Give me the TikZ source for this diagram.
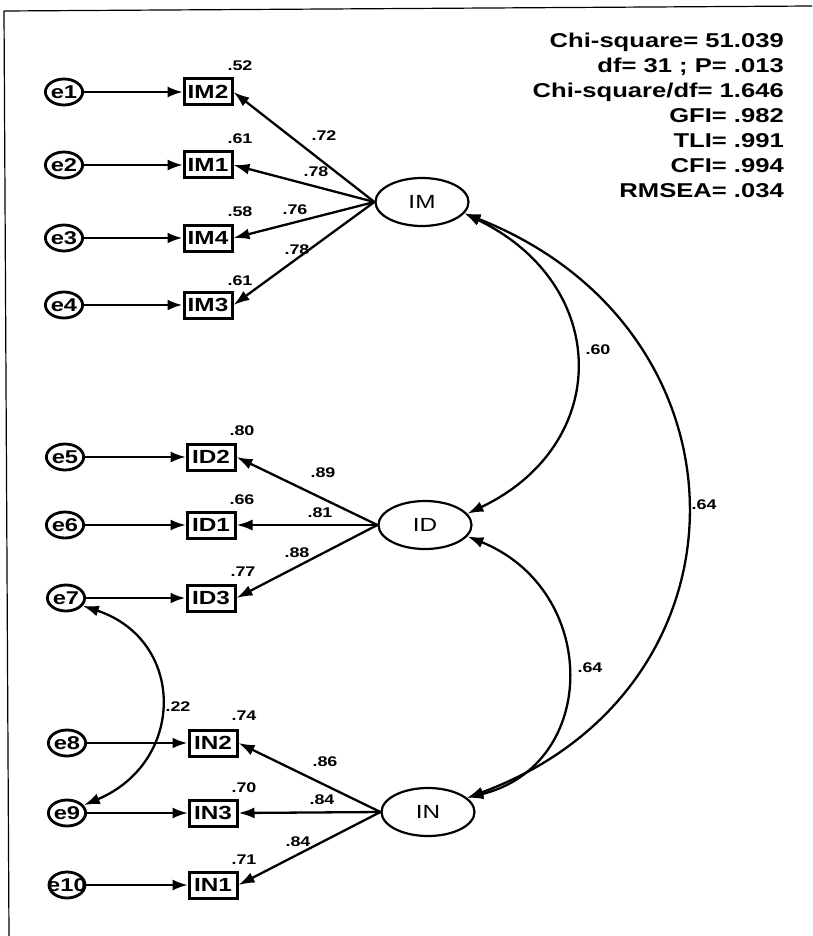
\documentclass[tikz,border=0pt]{standalone}
\usepackage{fontspec}
\setmainfont{Liberation Sans}
\newfontfamily\arialx[FakeStretch=1.28]{Liberation Sans}
\usetikzlibrary{arrows.meta,shapes.geometric}
\tikzset{
  errnode/.style={ellipse, draw, line width=2.8pt, minimum width=36pt, minimum height=26pt, inner sep=0pt,
    font=\arialx\bfseries\fontsize{18.5}{18.5}\selectfont},
  obsbox/.style={rectangle, draw, line width=3pt, minimum width=48pt, minimum height=26pt, inner sep=0pt,
    font=\arialx\bfseries\fontsize{19}{19}\selectfont},
  latent/.style={ellipse, draw, line width=2.2pt, minimum width=93pt, minimum height=48pt, inner sep=0pt,
    font=\arialx\fontsize{19}{19}\selectfont},
  num/.style={inner sep=0pt, font=\arialx\bfseries\fontsize{14}{14}\selectfont},
  stats/.style={inner sep=0pt, align=right, font=\arialx\bfseries\fontsize{20}{25}\selectfont},
  thinpath/.style={-{Latex[length=15pt,width=11pt]}, line width=1.6pt},
  thickpath/.style={-{Latex[length=15pt,width=11pt]}, line width=2.7pt},
  load/.style={-{Latex[length=16pt,width=11pt]}, line width=2.3pt},
  cov/.style={{Latex[length=16pt,width=11pt]}-{Latex[length=16pt,width=11pt]}, line width=2.3pt},
}
\begin{document}
\begin{tikzpicture}[x=1pt,y=-1pt]
\useasboundingbox (0,0) rectangle (812,936);
% frame
\draw[line width=1.2pt] (4,11) -- (812,6);
\draw[line width=1.2pt] (4,11) -- (9,936);

% stats
\node[stats, anchor=north east] (fitstats) at (784,33)
  {Chi-square= 51.039\\df= 31 ; P= .013\\Chi-square/df= 1.646\\GFI= .982\\TLI= .991\\CFI= .994\\RMSEA= .034};

% latent variables
\node[latent] (IM) at (422,202) {IM};
\node[latent] (ID) at (425,525) {ID};
\node[latent] (IN) at (428,812) {IN};

% observed
\node[obsbox] (IM2) at (208,92) {IM2};
\node[obsbox] (IM1) at (208,165) {IM1};
\node[obsbox] (IM4) at (208,238) {IM4};
\node[obsbox] (IM3) at (208,305) {IM3};
\node[obsbox] (ID2) at (211,457) {ID2};
\node[obsbox] (ID1) at (211,525) {ID1};
\node[obsbox] (ID3) at (211,598) {ID3};
\node[obsbox] (IN2) at (213,743) {IN2};
\node[obsbox] (IN3) at (213,813) {IN3};
\node[obsbox] (IN1) at (213,885) {IN1};

% errors
\node[errnode] (e1) at (64,92) {e1};
\node[errnode] (e2) at (64,165) {e2};
\node[errnode] (e3) at (64,238) {e3};
\node[errnode] (e4) at (64,305) {e4};
\node[errnode] (e5) at (65,457) {e5};
\node[errnode] (e6) at (65,525) {e6};
\node[errnode] (e7) at (66,598) {e7};
\node[errnode] (e8) at (67,743) {e8};
\node[errnode] (e9) at (67,813) {e9};
\node[errnode, inner xsep=-8pt] (e10) at (67,885) {e10};

% error paths
\draw[thinpath] (e1) -- (IM2);
\draw[thinpath] (e2) -- (IM1);
\draw[thickpath] (e3) -- (IM4);
\draw[thickpath] (e4) -- (IM3);
\draw[thinpath] (e5) -- (ID2);
\draw[thinpath] (e6) -- (ID1);
\draw[thickpath] (e7) -- (ID3);
\draw[thickpath] (e8) -- (IN2);
\draw[thinpath] (e9) -- (IN3);
\draw[thinpath] (e10) -- (IN1);

% loadings
\draw[load] (IM.west) -- (IM2.east);
\draw[load] (IM.west) -- (IM1.east);
\draw[load] (IM.west) -- (IM4.east);
\draw[load] (IM.west) -- (IM3.east);
\draw[load] (ID.west) -- (ID2.east);
\draw[load] (ID.west) -- (ID1.east);
\draw[load] (ID.west) -- (ID3.east);
\draw[load] (IN.west) -- (IN2.east);
\draw[load] (IN.west) -- (IN3.east);
\draw[load] (IN.west) -- (IN1.east);

% R squared
\node[num] (r1) at (240,66) {.52};
\node[num] (r2) at (240,139) {.61};
\node[num] (r3) at (240,212) {.58};
\node[num] (r4) at (240,281) {.61};
\node[num] (r5) at (242,431) {.80};
\node[num] (r6) at (242,500) {.66};
\node[num] (r7) at (243,572) {.77};
\node[num] (r8) at (244,716) {.74};
\node[num] (r9) at (244,788) {.70};
\node[num] (r10) at (244,860) {.71};

% loading labels
\node[num] (l1) at (324,136) {.72};
\node[num] (l2) at (316,172) {.78};
\node[num] (l3) at (295,210) {.76};
\node[num] (l4) at (297,250) {.78};
\node[num] (l5) at (323,473) {.89};
\node[num] (l6) at (320,513) {.81};
\node[num] (l7) at (297,553) {.88};
\node[num] (l8) at (325,762) {.86};
\node[num] (l9) at (322,800) {.84};
\node[num] (l10) at (298,842) {.84};

% covariances
\draw[cov] (IM.-15) .. controls (612,285) and (612,445) .. (ID.15);
\draw[cov] (IM.-15) .. controls (760,330) and (760,690) .. (IN.20);
\draw[cov] (ID.-15) .. controls (600,590) and (600,765) .. (IN.20);
\draw[cov] (e7.-25) .. controls (186,640) and (186,762) .. (e9.25);
\node[num] (c1) at (598,350) {.60};
\node[num] (c2) at (704,505) {.64};
\node[num] (c3) at (590,668) {.64};
\node[num] (c4) at (178,707) {.22};
\end{tikzpicture}
\end{document}
